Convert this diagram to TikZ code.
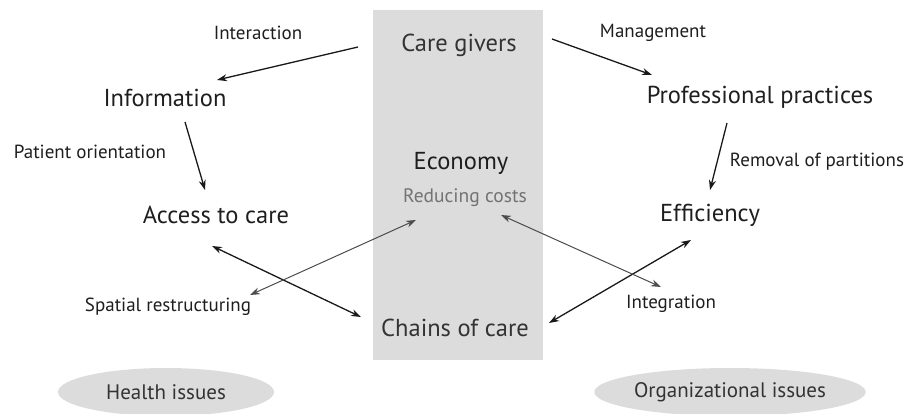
\documentclass[tikz,border=0pt]{standalone}
\usepackage{fontspec}
\setmainfont{PT Sans}
\usetikzlibrary{arrows.meta,shapes.geometric}
\definecolor{boxgray}{HTML}{DCDCDC}
\definecolor{txt}{HTML}{1E1E1E}

\begin{document}
\begin{tikzpicture}[x=1pt, y=-1pt,
  big/.style={font=\fontsize{24.5}{28}\selectfont, text=txt, inner sep=0pt},
  lbl/.style={font=\fontsize{19}{22}\selectfont, text=txt, inner sep=0pt},
  issue/.style={ellipse, fill=boxgray, minimum width=216pt, minimum height=48pt, inner sep=0pt, font=\fontsize{21}{24}\selectfont, text=black!80},
  arr/.style={-{Stealth[length=10pt,width=7pt]}, line width=1.3pt, black!90},
  darr/.style={{Stealth[length=10pt,width=7pt]}-{Stealth[length=10pt,width=7pt]}, line width=1.3pt, black!90},
  garr/.style={{Stealth[length=10pt,width=7pt]}-{Stealth[length=10pt,width=7pt]}, line width=1pt, black!70}]
\useasboundingbox (0,0) rectangle (917,414);
%\draw[red] (0,0) rectangle (917,414);
\fill[boxgray] (373,10) rectangle (543,360);

% middle column
\node[big, text=black!80] (care) at (459,45) {Care givers};
\node[big] (econ) at (461,163) {Economy};
\node[lbl, font=\fontsize{19.5}{22}\selectfont, text=black!55] (costs) at (465,198) {Reducing costs};
\node[big, text=black!80] (chains) at (455,328) {Chains of care};

% left side
\node[big] (info) at (165,98) {Information};
\node[big] (access) at (216,215) {Access to care};
\node[lbl] (interact) at (258,33) {Interaction};
\node[lbl] (patient) at (90,152) {Patient orientation};
\node[lbl] (spatial) at (168,307) {Spatial restructuring};

% right side
\node[big] (prof) at (760,97) {Professional practices};
\node[big] (eff) at (710,215) {Efficiency};
\node[lbl] (manage) at (653,33) {Management};
\node[lbl] (removal) at (817,162) {Removal of partitions};
\node[lbl] (integ) at (671,304) {Integration};

\node[issue] (health) at (166,392) {Health issues};
\node[issue, minimum width=220pt] (org) at (730,392) {Organizational issues};

\draw[arr] ([shift={(-101,2)}]care.center) -- ([shift={(52,-18)}]info.center);
\draw[arr] ([shift={(93,-6)}]care.center) -- ([shift={(-108,-22)}]prof.center);
\draw[arr] ([shift={(20,24)}]info.center) -- ([shift={(-11,-25)}]access.center);
\draw[arr] ([shift={(-33,26)}]prof.center) -- ([shift={(0,-25)}]eff.center);
\draw[darr] ([shift={(-4,31)}]access.center) -- ([shift={(-94,-11)}]chains.center);
\draw[darr] ([shift={(94,-5)}]chains.center) -- ([shift={(-19,25)}]eff.center);
\draw[garr] ([shift={(82,-12)}]spatial.center) -- ([shift={(-49,22)}]costs.center);
\draw[garr] ([shift={(36,17)}]costs.center) -- ([shift={(-10,-17)}]integ.center);
\end{tikzpicture}
\end{document}
